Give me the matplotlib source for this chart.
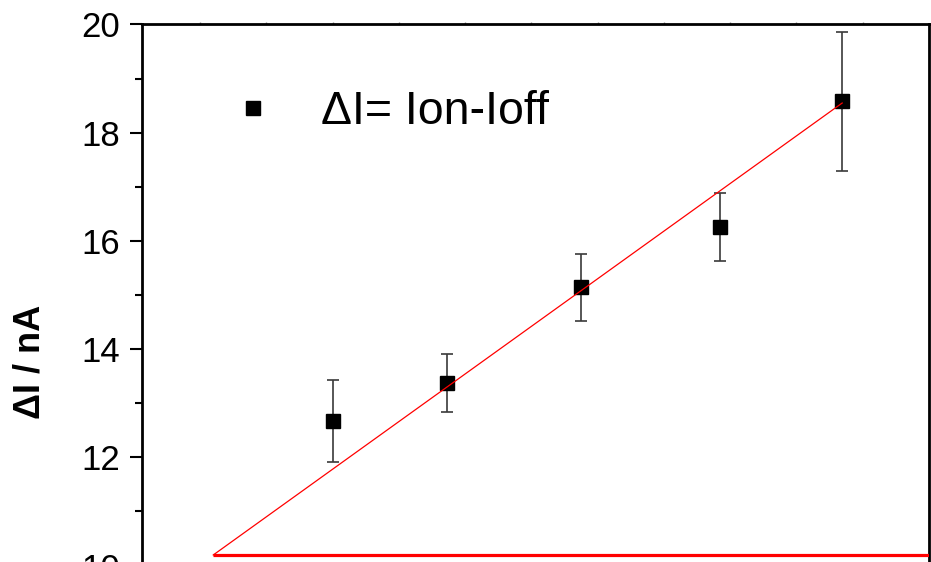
import matplotlib
matplotlib.use("Agg")
import matplotlib.pyplot as plt
import numpy as np

plt.rcParams['font.family'] = ['Liberation Sans', 'DejaVu Sans']

# Data (x in arbitrary axis units; bottom axis is cropped in the reference)
x_vals = [2.0, 3.72, 5.75, 7.84, 9.69]
y_vals = [12.67, 13.37, 15.14, 16.26, 18.58]
y_err = [0.76, 0.54, 0.62, 0.63, 1.28]

fit_slope = 0.88
fit_intercept = 10.02
fit_x_range = [0.2, 9.69]
baseline_y = 10.19

y_ticks = [10, 12, 14, 16, 18, 20]
x_major = list(range(0, 11))

fig = plt.figure(figsize=(9.31, 5.62), dpi=100)
ax = fig.add_axes([142/931, 1 - 565.6/562, 787/931, (565.6 - 24.4)/562])

ax.errorbar(x_vals, y_vals, yerr=y_err, fmt='none', ecolor='#3a3a3a',
            elinewidth=1.2, capsize=4.3, capthick=1.2, zorder=2)
h, = ax.plot(x_vals, y_vals, 's', color='black', markersize=9.7,
             linestyle='none', zorder=3, label='ΔI= Ion-Ioff')

fx = np.array(fit_x_range)
ax.plot(fx, fit_intercept + fit_slope * fx, color='red', lw=0.9, zorder=4)
ax.plot([fit_x_range[0], 11.5], [baseline_y, baseline_y], color='red', lw=2.3,
        zorder=4, solid_capstyle='butt')

ax.set_xlim(-0.875, 11.0)
ax.set_ylim(10, 20)
ax.set_yticks(y_ticks)
ax.set_yticks(np.arange(11, 20, 2), minor=True)
ax.set_xticks(x_major)
ax.tick_params(axis='y', which='major', direction='out', length=8.6, width=1.5,
               labelsize=25, pad=7.5)
ax.tick_params(axis='y', which='minor', direction='out', length=5, width=1.5)
ax.tick_params(axis='x', which='major', direction='out', length=1.2, width=1,
               color='#888888', top=True, labeltop=False, labelbottom=False)

for s in ax.spines.values():
    s.set_linewidth(2)

fig.text(30/931, 1 - 362/562, 'ΔI / nA', rotation=90, ha='center', va='center',
         fontsize=26, fontweight='bold')

ax.legend(handles=[h], loc='center left', bbox_to_anchor=(230/931, 1 - 112/562),
          bbox_transform=fig.transFigure, frameon=False, fontsize=33.5,
          handlelength=1.0, handletextpad=0.95, borderpad=0, borderaxespad=0,
          markerscale=1.0)

fig.savefig('out.png', dpi=100)
